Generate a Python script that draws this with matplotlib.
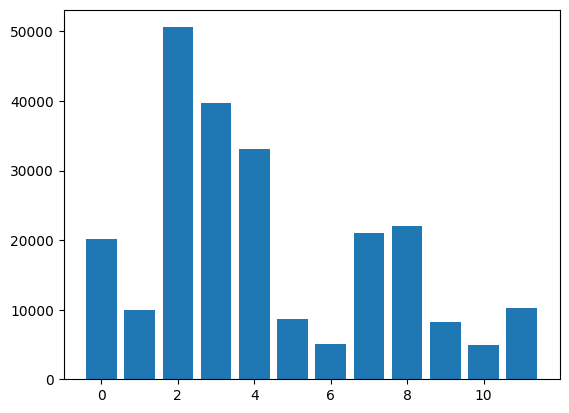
import matplotlib
matplotlib.use('Agg')
import matplotlib.pyplot as plt

# bar positions and heights
positions = list(range(12))
values = [20140, 10000, 50600, 39700, 33100, 8700, 5050, 21000, 22000, 8200, 4930, 10290]

fig, ax = plt.subplots(figsize=(6.4, 4.8), dpi=100)
ax.bar(positions, values)

fig.savefig('out.png', bbox_inches='tight')
